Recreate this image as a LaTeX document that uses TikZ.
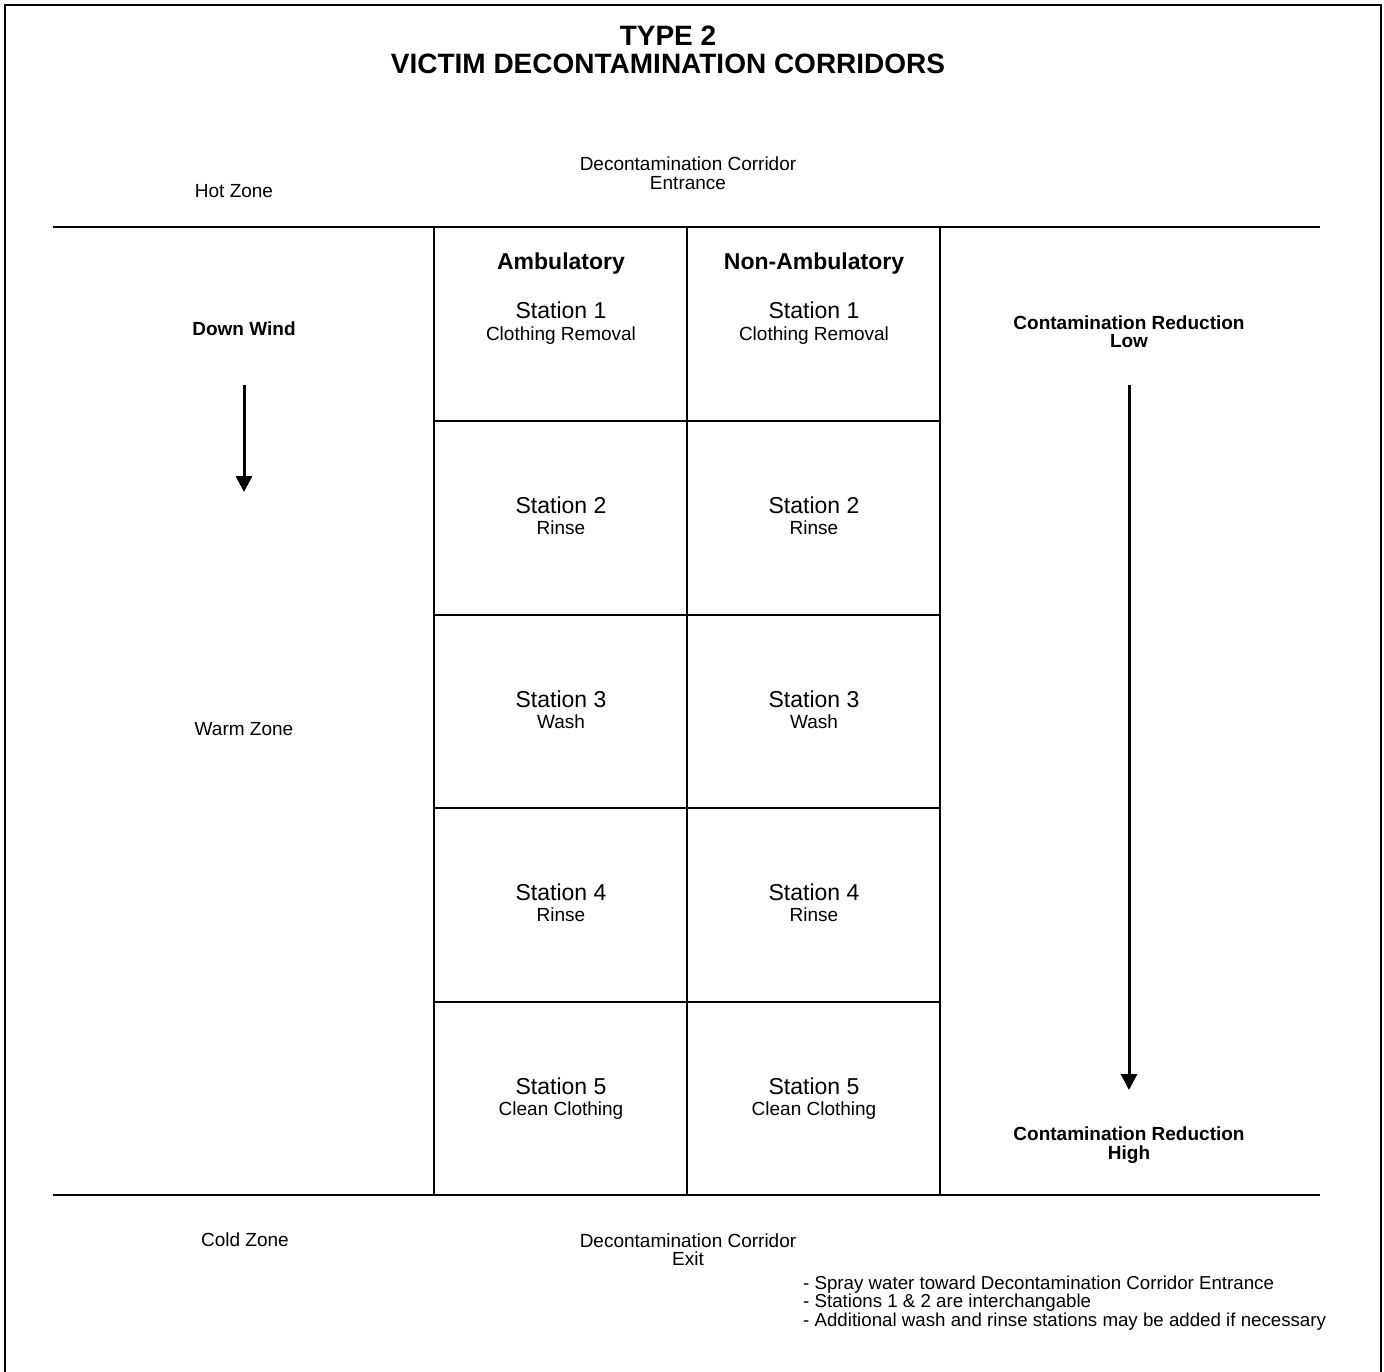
\documentclass[tikz,border=0pt]{standalone}
\usepackage{fontspec}
\setmainfont{Liberation Sans}
\usetikzlibrary{arrows.meta}

\begin{document}
\begin{tikzpicture}[x=1pt,y=-1pt,
  every node/.style={inner sep=0pt, anchor=base},
  heading/.style={font=\fontsize{28}{30}\selectfont\bfseries},
  colhead/.style={font=\fontsize{23}{25}\selectfont\bfseries},
  station/.style={font=\fontsize{23}{25}\selectfont},
  task/.style={font=\fontsize{19}{21}\selectfont},
  label/.style={font=\fontsize{19}{21}\selectfont},
  note/.style={font=\fontsize{18.7}{21}\selectfont, anchor=base west},
  boldlabel/.style={font=\fontsize{19}{21}\selectfont\bfseries},
  zoneline/.style={line width=2pt},
  grid/.style={line width=1.4pt},
  flow/.style={line width=3pt, -{Triangle[width=16pt,length=16pt]}}]
\useasboundingbox (0,0) rectangle (1384,1372);
\draw[line width=2.5pt] (5,1380) -- (5,5) -- (1381,5) -- (1381,1380);
\node[heading] (type) at (668,46) {TYPE 2};
\node[heading] (title) at (668,74) {VICTIM DECONTAMINATION CORRIDORS};
\node[label] (entr1) at (688,171) {Decontamination Corridor};
\node[label] (entr2) at (688,190) {Entrance};
\node[label] (hot) at (234,198) {Hot Zone};
\draw[zoneline] (53,227) -- (1320,227);
\draw[zoneline] (53,1195) -- (1320,1195);
\foreach \x in {434,687,940}
  \draw[grid] (\x,227) -- (\x,1195);
\foreach \y in {421,615,808,1002}
  \draw[grid] (434,\y) -- (940,\y);
\node[colhead] (amb) at (561,270) {Ambulatory};
\node[colhead] (nonamb) at (814,270) {Non-Ambulatory};
\foreach \n/\task/\top in {1/Clothing Removal/227, 2/Rinse/421, 3/Wash/615, 4/Rinse/808, 5/Clean Clothing/1002} {
  \node[station] (a\n) at (561,\top+92) {Station \n};
  \node[task] (a\n t) at (561,\top+113) {\task};
  \node[station] (b\n) at (814,\top+92) {Station \n};
  \node[task] (b\n t) at (814,\top+113) {\task};
}
\node[boldlabel] (wind) at (244,335) {Down Wind};
\coordinate (wind1) at (244,385);
\coordinate (wind2) at (244,492);
\draw[flow] (wind1) -- (wind2);
\node[label] (warm) at (244,735) {Warm Zone};
\node[boldlabel] (low1) at (1129,330) {Contamination Reduction};
\node[boldlabel] (low2) at (1129,348) {Low};
\coordinate (red1) at (1129,385);
\coordinate (red2) at (1129,1090);
\draw[flow] (red1) -- (red2);
\node[boldlabel] (high1) at (1129,1140) {Contamination Reduction};
\node[boldlabel] (high2) at (1129,1159) {High};
\node[label] (cold) at (245,1246) {Cold Zone};
\node[label] (exit1) at (688,1247) {Decontamination Corridor};
\node[label] (exit2) at (688,1265) {Exit};
\node[note] (note1) at (803,1289) {- Spray water toward Decontamination Corridor Entrance};
\node[note] (note2) at (803,1307) {- Stations 1 \& 2 are interchangable};
\node[note] (note3) at (803,1326) {- Additional wash and rinse stations may be added if necessary};
\end{tikzpicture}
\end{document}
